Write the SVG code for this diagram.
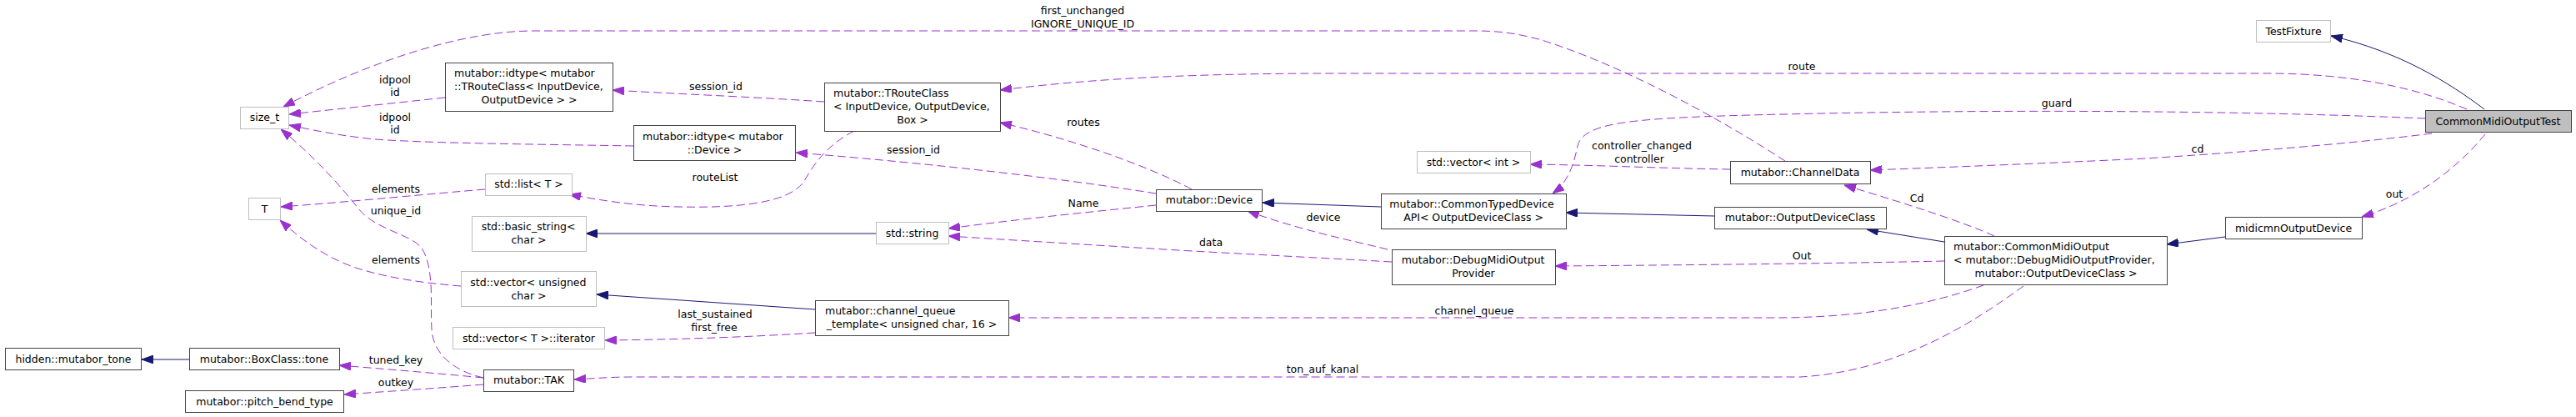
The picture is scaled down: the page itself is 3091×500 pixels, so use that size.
<svg xmlns="http://www.w3.org/2000/svg" width="3091" height="500" viewBox="0 0 3091 500">
<style>
text{font-family:"DejaVu Sans","Liberation Sans",sans-serif;font-size:12.5px;fill:#000}
.m{text-anchor:middle}
.s{text-anchor:start}
.n{fill:#fff;stroke:#444;stroke-width:1}
.g{fill:#fff;stroke:#bfbfbf;stroke-width:1}
.r{fill:#bfbfbf;stroke:#444;stroke-width:1}
.e{fill:none;stroke:#9a32cd;stroke-width:1;stroke-dasharray:10,5;marker-end:url(#ap)}
.i{fill:none;stroke:#191970;stroke-width:1;marker-end:url(#ab)}
</style>
<defs>
<marker id="ap" markerUnits="userSpaceOnUse" viewBox="0 0 14 10" refX="14" refY="5" markerWidth="14" markerHeight="10" orient="auto"><path d="M0,0 L14,5 L0,10 z" fill="#9a32cd" stroke="#9a32cd"/></marker>
<marker id="ab" markerUnits="userSpaceOnUse" viewBox="0 0 14 10" refX="14" refY="5" markerWidth="14" markerHeight="10" orient="auto"><path d="M0,0 L14,5 L0,10 z" fill="#191970" stroke="#191970"/></marker>
</defs>
<rect width="3091" height="500" fill="#fff"/>
<g id="connectors">
<path class="i" d="M2981,131 C2940,100 2880,62 2797,43"/>
<path class="i" d="M2670,284 L2600,293"/>
<path class="e" d="M2982,161 C2950,200 2900,240 2834,260"/>
<path class="e" d="M2960,131 C2900,105 2820,88 2720,88 L1600,88 C1400,88 1290,97 1200,108"/>
<path class="e" d="M2910,142 C2700,133 2400,130 2100,138 C1950,142 1900,148 1893,175 C1888,200 1880,220 1863,232"/>
<path class="e" d="M2918,160 C2800,175 2650,185 2575,190 C2450,196 2350,200 2244,204"/>
<path class="e" d="M2393,283 C2360,268 2300,248 2213,222"/>
<path class="e" d="M2142,193 C2060,140 1950,80 1850,48 C1820,40 1800,37 1770,37 L640,37 C560,37 450,70 340,128"/>
<path class="e" d="M534,117 L347,137"/>
<path class="e" d="M760,175 C650,173 520,172 450,167 C410,163 380,157 347,150"/>
<path class="e" d="M580,453 C545,445 520,425 518,395 C516,365 522,320 505,296 C490,280 450,275 430,250 C410,225 380,190 337,155"/>
<path class="e" d="M553,343 C530,341 480,337 433,323 C400,313 370,295 336,264"/>
<path class="e" d="M582,227 C520,232 420,242 337,248"/>
<path class="e" d="M1025,157 C990,175 975,200 965,217 C950,240 900,250 815,248 C760,247 720,240 683,233"/>
<path class="e" d="M989,122 C900,116 800,112 735,108"/>
<path class="e" d="M1387,232 C1280,215 1130,197 955,183"/>
<path class="e" d="M1430,227 C1390,205 1300,170 1200,147"/>
<path class="e" d="M1387,246 C1300,255 1220,263 1138,274"/>
<path class="e" d="M1670,314 C1600,310 1520,306 1413,300 C1300,293 1200,287 1138,283"/>
<path class="e" d="M1665,299 C1620,288 1560,276 1497,253"/>
<path class="i" d="M1657,248 L1515,243"/>
<path class="i" d="M1051,280 L703,280"/>
<path class="i" d="M978,371 L716,353"/>
<path class="i" d="M227,431 L170,431"/>
<path class="e" d="M978,399 C900,404 820,407 726,408"/>
<path class="e" d="M580,453 C540,449 480,444 407,438"/>
<path class="e" d="M580,461 C530,465 470,469 413,473"/>
<path class="e" d="M2428,343 C2370,385 2280,445 2160,452 L760,452 C730,452 710,454 689,455"/>
<path class="e" d="M2380,342 C2330,360 2250,381 2130,381 L1210,381"/>
<path class="e" d="M2333,313 C2200,316 2000,318 1866,319"/>
<path class="i" d="M2333,290 L2240,275"/>
<path class="i" d="M2057,259 L1879,255"/>
<path class="e" d="M2076,203 C2000,202 1920,198 1836,197"/>
<text class="m" x="1299" y="17">first_unchanged</text>
<text class="m" x="1299" y="33">IGNORE_UNIQUE_ID</text>
<text class="m" x="474" y="100">idpool</text>
<text class="m" x="474" y="115">id</text>
<text class="m" x="474" y="145">idpool</text>
<text class="m" x="474" y="160">id</text>
<text class="m" x="475" y="231">elements</text>
<text class="m" x="475" y="257">unique_id</text>
<text class="m" x="475" y="316">elements</text>
<text class="m" x="475" y="436">tuned_key</text>
<text class="m" x="475" y="463">outkey</text>
<text class="m" x="859" y="108">session_id</text>
<text class="m" x="858" y="217">routeList</text>
<text class="m" x="858" y="381">last_sustained</text>
<text class="m" x="857" y="397">first_free</text>
<text class="m" x="1300" y="151">routes</text>
<text class="m" x="1096" y="184">session_id</text>
<text class="m" x="1300" y="248">Name</text>
<text class="m" x="1453" y="295">data</text>
<text class="m" x="1588" y="265">device</text>
<text class="m" x="1769" y="377">channel_queue</text>
<text class="m" x="1587" y="447">ton_auf_kanal</text>
<text class="m" x="1970" y="179">controller_changed</text>
<text class="m" x="1967" y="195">controller</text>
<text class="m" x="2162" y="84">route</text>
<text class="m" x="2468" y="128">guard</text>
<text class="m" x="2300" y="242">Cd</text>
<text class="m" x="2162" y="311">Out</text>
<text class="m" x="2637" y="183">cd</text>
<text class="m" x="2873" y="237">out</text>
</g>
<g id="size_t"><rect class="g" x="288.5" y="128.5" width="58" height="26"/><text class="m" x="317.5" y="145">size_t</text></g>
<g id="T"><rect class="g" x="298.5" y="237.5" width="38" height="26"/><text class="m" x="317.5" y="254.5">T</text></g>
<g id="hidden_mutabor_tone"><rect class="n" x="6.5" y="417.5" width="163" height="26"/><text class="m" x="88" y="434.5">hidden::mutabor_tone</text></g>
<g id="BoxClass_tone"><rect class="n" x="227.5" y="417.5" width="180" height="26"/><text class="m" x="317" y="434.5">mutabor::BoxClass::tone</text></g>
<g id="pitch_bend_type"><rect class="n" x="222.5" y="468.5" width="190" height="26"/><text class="m" x="317.5" y="485.5">mutabor::pitch_bend_type</text></g>
<g id="idtype_TRouteClass"><rect class="n" x="534.5" y="75.5" width="201" height="58"/><text class="s" x="545" y="91.5">mutabor::idtype&lt; mutabor</text><text class="s" x="545" y="107.5">::TRouteClass&lt; InputDevice,</text><text class="m" x="635" y="123.5">OutputDevice &gt; &gt;</text></g>
<g id="idtype_Device"><rect class="n" x="760.5" y="150.5" width="194" height="42"/><text class="s" x="771" y="167.5">mutabor::idtype&lt; mutabor</text><text class="m" x="857.5" y="183.5">::Device &gt;</text></g>
<g id="std_list"><rect class="g" x="582.5" y="208.5" width="104" height="26"/><text class="m" x="634.5" y="225">std::list&lt; T &gt;</text></g>
<g id="basic_string"><rect class="g" x="566.5" y="259.5" width="137" height="42"/><text class="s" x="577.7" y="275.5">std::basic_string&lt;</text><text class="m" x="634.5" y="291.5">char &gt;</text></g>
<g id="vector_uchar"><rect class="g" x="553.5" y="325.5" width="162" height="42"/><text class="s" x="564.3" y="342.5">std::vector&lt; unsigned</text><text class="m" x="634.5" y="358.5">char &gt;</text></g>
<g id="vector_iterator"><rect class="g" x="543.5" y="392.5" width="182" height="26"/><text class="m" x="634.5" y="409.5">std::vector&lt; T &gt;::iterator</text></g>
<g id="TAK"><rect class="n" x="580.5" y="443.5" width="108" height="26"/><text class="m" x="634.5" y="460">mutabor::TAK</text></g>
<g id="TRouteClass"><rect class="n" x="989.5" y="99.5" width="211" height="58"/><text class="s" x="1000" y="115.5">mutabor::TRouteClass</text><text class="s" x="1000" y="131.5">&lt; InputDevice, OutputDevice,</text><text class="m" x="1095" y="147.5">Box &gt;</text></g>
<g id="Device"><rect class="n" x="1387.5" y="227.5" width="127" height="26"/><text class="m" x="1451" y="244">mutabor::Device</text></g>
<g id="std_string"><rect class="g" x="1051.5" y="266.5" width="87" height="26"/><text class="m" x="1094.5" y="283.5">std::string</text></g>
<g id="channel_queue"><rect class="n" x="978.5" y="360.5" width="232" height="42"/><text class="s" x="990" y="377">mutabor::channel_queue</text><text class="m" x="1094" y="392.5">_template&lt; unsigned char, 16 &gt;</text></g>
<g id="CommonTypedDevice"><rect class="n" x="1657.5" y="232.5" width="222" height="42"/><text class="s" x="1667.3" y="249">mutabor::CommonTypedDevice</text><text class="m" x="1768" y="265">API&lt; OutputDeviceClass &gt;</text></g>
<g id="vector_int"><rect class="g" x="1700.5" y="181.5" width="136" height="26"/><text class="m" x="1768" y="198.5">std::vector&lt; int &gt;</text></g>
<g id="DebugMidiOutputProvider"><rect class="n" x="1670.5" y="299.5" width="196" height="42"/><text class="s" x="1681.7" y="316">mutabor::DebugMidiOutput</text><text class="m" x="1768" y="331.5">Provider</text></g>
<g id="ChannelData"><rect class="n" x="2076.5" y="193.5" width="168" height="27"/><text class="m" x="2160" y="210.5">mutabor::ChannelData</text></g>
<g id="OutputDeviceClass"><rect class="n" x="2057.5" y="248.5" width="206" height="26"/><text class="m" x="2160" y="265">mutabor::OutputDeviceClass</text></g>
<g id="CommonMidiOutput"><rect class="n" x="2333.5" y="283.5" width="267" height="58"/><text class="s" x="2344" y="299.5">mutabor::CommonMidiOutput</text><text class="s" x="2344" y="315.5">&lt; mutabor::DebugMidiOutputProvider,</text><text class="m" x="2467" y="331.5">mutabor::OutputDeviceClass &gt;</text></g>
<g id="TestFixture"><rect class="g" x="2707.5" y="24.5" width="89" height="26"/><text class="m" x="2752" y="41.5">TestFixture</text></g>
<g id="CommonMidiOutputTest"><rect class="r" x="2910.5" y="132.5" width="175" height="26"/><text class="m" x="2997.5" y="149.5">CommonMidiOutputTest</text></g>
<g id="midicmnOutputDevice"><rect class="n" x="2670.5" y="260.5" width="164" height="26"/><text class="m" x="2752" y="277.5">midicmnOutputDevice</text></g>
</svg>
